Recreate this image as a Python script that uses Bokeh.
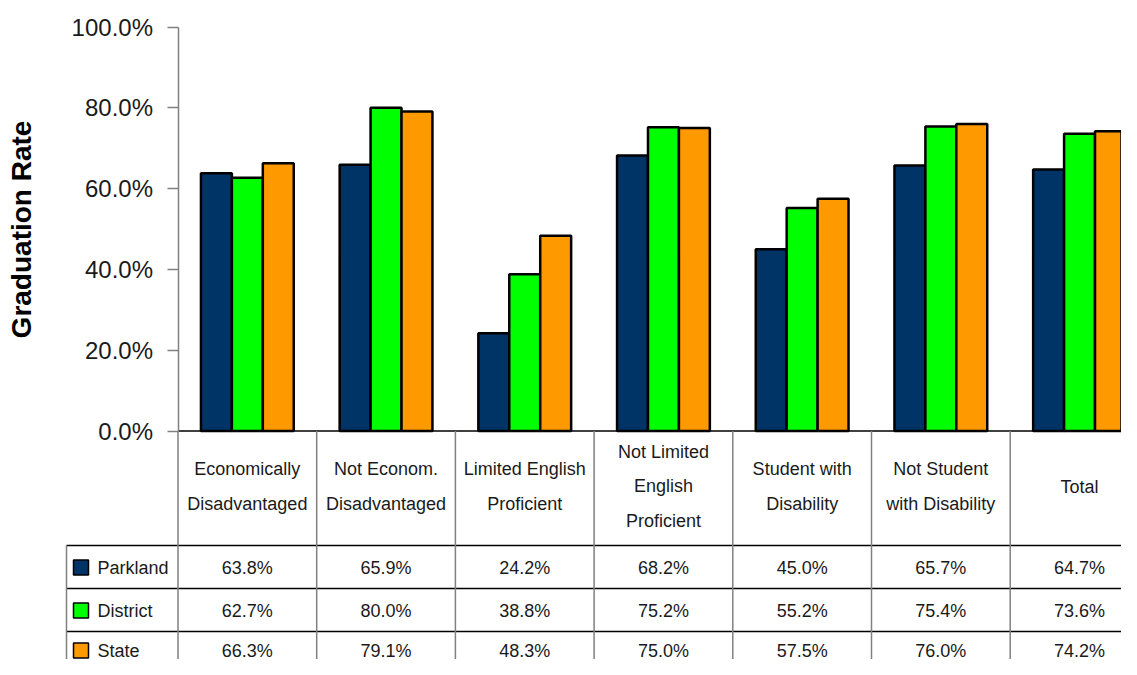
from bokeh.plotting import figure
from bokeh.models import Range1d, LinearAxis, FixedTicker, PrintfTickFormatter
from bokeh.core.properties import value
from bokeh.embed import file_html
from bokeh.resources import INLINE

# ---------------- data ----------------
categories = ["Economically\nDisadvantaged", "Not Econom.\nDisadvantaged",
              "Limited English\nProficient", "Not Limited\nEnglish\nProficient",
              "Student with\nDisability", "Not Student\nwith Disability", "Total"]
series = ["Parkland", "District", "State"]
parkland = [63.8, 65.9, 24.2, 68.2, 45.0, 65.7, 64.7]
district = [62.7, 80.0, 38.8, 75.2, 55.2, 75.4, 73.6]
state = [66.3, 79.1, 48.3, 75.0, 57.5, 76.0, 74.2]
colors = ["#003366", "#00FF00", "#FF9900"]
y_ticks = [0, 20, 40, 60, 80, 100]
y_title = "Graduation Rate"

# ---------------- layout (pixel geometry -> data units) ----------------
W, H = 1121, 659
X0_PX, CAT_PX = 177.5, 138.7      # x of first category edge, width of one category
Y0_PX, PCT_PX = 430.5, 4.04       # y of 0 %, pixels per percent


def dx(px):
    return (px - X0_PX) / CAT_PX


def dy(py):
    return (Y0_PX - py) / PCT_PX


FONT = "Liberation Sans"
TXT = "#1a1a1a"

p = figure(width=W, height=H, output_backend="svg", toolbar_location=None,
           x_axis_type=None, y_axis_type=None,
           x_range=Range1d(dx(0), dx(W)),
           y_range=Range1d(dy(H), dy(0)),
           min_border=0, outline_line_color=None)
p.grid.visible = False
p.background_fill_color = "white"
p.border_fill_color = "white"

# ---------------- bars ----------------
n = len(categories)
bw = 0.223
all_vals = [parkland, district, state]
for k, (name, vals, col) in enumerate(zip(series, all_vals, colors)):
    xs = [i + 0.5 + (k - 1) * bw for i in range(n)]
    p.vbar(x=xs, top=vals, bottom=0, width=bw, fill_color=col,
           line_color="black", line_width=2.5)

# ---------------- y axis ----------------
ax = LinearAxis(fixed_location=0, bounds=(0, 100),
                ticker=FixedTicker(ticks=y_ticks),
                formatter=PrintfTickFormatter(format="%.1f%%"),
                axis_label=y_title)
ax.axis_line_color = "#808080"
ax.axis_line_width = 1.5
ax.major_tick_line_color = "#808080"
ax.major_tick_line_width = 1.5
ax.major_tick_out = 11
ax.major_tick_in = 0
ax.minor_tick_out = 0
ax.minor_tick_in = 0
ax.major_label_standoff = 14
ax.major_label_text_font = FONT
ax.major_label_text_font_size = "24px"
ax.major_label_text_color = TXT
ax.axis_label_text_font = FONT
ax.axis_label_text_font_style = "bold"
ax.axis_label_text_font_size = "28px"
ax.axis_label_text_color = "black"
ax.axis_label_standoff = 32
p.add_layout(ax, "left")

# ---------------- data table ----------------
x_left = dx(66)
x_right = dx(W) + 1
y_head_bot = dy(545)
row_lines = [dy(588), dy(631)]
y_bottom = dy(H) - 5

# horizontal black lines
hy = [0, y_head_bot] + row_lines
hx0 = [0, x_left] + [x_left] * len(row_lines)
p.segment(x0=hx0, y0=hy, x1=[x_right] * len(hy), y1=hy,
          line_color="black", line_width=1.5)
# vertical gray lines
vx = [x_left] + list(range(n + 1))
vy0 = [y_head_bot] + [0] * (n + 1)
p.segment(x0=vx, y0=vy0, x1=vx, y1=[y_bottom] * len(vx),
          line_color="#808080", line_width=1.5)

# header text (category names)
p.text(x=[i + 0.5 for i in range(n)], y=[dy(486)] * n, text=categories,
       text_align="center", text_baseline="middle",
       text_font=value(FONT), text_font_size="18px",
       text_line_height=1.74, text_color=TXT)

# value rows
row_centers = [dy(567), dy(610), dy(650)]
for vals, yc in zip(all_vals, row_centers):
    p.text(x=[i + 0.5 for i in range(n)], y=[yc] * n,
           text=[f"{v:.1f}%" for v in vals],
           text_align="center", text_baseline="middle",
           text_font=value(FONT), text_font_size="18px",
           text_color=TXT)

# legend keys inside the table
p.rect(x=[dx(80.5)] * 3, y=row_centers, width=15, height=15,
       width_units="screen", height_units="screen",
       fill_color=colors, line_color="black", line_width=1.5)
p.text(x=[dx(97)] * 3, y=row_centers, text=series,
       text_align="left", text_baseline="middle",
       text_font=value(FONT), text_font_size="18px", text_color=TXT)

open("out.html", "w").write(file_html(p, INLINE))
